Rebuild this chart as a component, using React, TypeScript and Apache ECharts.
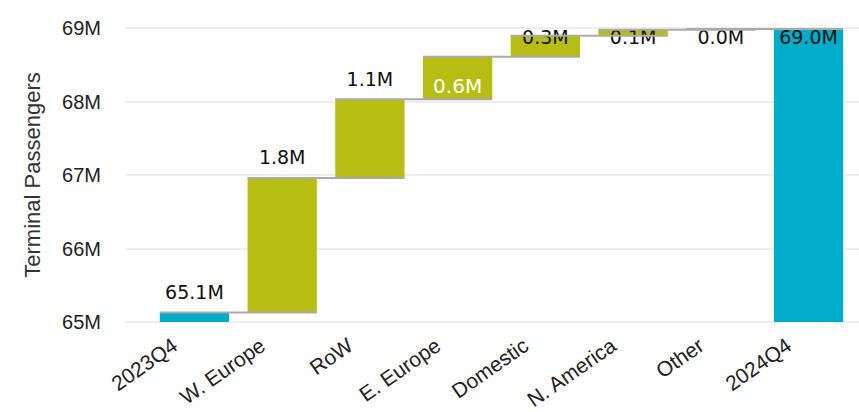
import React, { useEffect, useRef } from "react";
import * as echarts from "echarts";

const categories = ["2023Q4", "W. Europe", "RoW", "E. Europe", "Domestic", "N. America", "Other", "2024Q4"];
const startTotal = 65.13;
const changes = [1.83, 1.07, 0.58, 0.285, 0.08, 0.01];
const endTotal = 68.985;
const yTicks = [65, 66, 67, 68, 69];

const TEAL = "#00acc8";
const OLIVE = "#b7be13";
const GRID_TOP = 28;
const GRID_BOTTOM = 90;
const AXIS_FONT = "'Liberation Sans', Arial, sans-serif";
const LABEL_FONT = "'DejaVu Sans', Tahoma, sans-serif";

const fmt = (v: number) => v.toFixed(1) + "M";

export default function App() {
  const ref = useRef<HTMLDivElement>(null);
  useEffect(() => {
    if (!ref.current) return;
    const chart = echarts.init(ref.current, undefined, { renderer: "svg" });
    const yMin = yTicks[0];
    const yMax = yTicks[yTicks.length - 1];
    const yInt = yTicks[1] - yTicks[0];

    const base: number[] = [0];
    const vis: any[] = [];
    const labels: string[] = [fmt(startTotal)];
    const levels: number[] = [startTotal];
    let cum = startTotal;
    vis.push({ value: startTotal, itemStyle: { color: TEAL } });
    changes.forEach((d) => {
      base.push(cum);
      const top = cum + d;
      const item: any = { value: d, itemStyle: { color: OLIVE } };
      if (top > yMax - 0.5 && d >= 0.5) {
        item.label = { position: "insideBottom", color: "#ffffff", distance: 3, fontSize: 20 };
      }
      vis.push(item);
      labels.push(fmt(d));
      cum = top;
      levels.push(cum);
    });
    base.push(0);
    vis.push({ value: endTotal, itemStyle: { color: TEAL } });
    labels.push(fmt(endTotal));

    const connectorData = levels.map((v, i) => [i, v]);

    chart.setOption({
      animation: false,
      grid: [
        { left: 150.6, right: 6.6, top: GRID_TOP, bottom: GRID_BOTTOM, containLabel: false, outerBoundsMode: "none" },
        { left: 125, right: 0, top: GRID_TOP, bottom: GRID_BOTTOM, containLabel: false, outerBoundsMode: "none" },
      ],
      xAxis: [
        {
          type: "category",
          gridIndex: 0,
          data: categories,
          axisLine: { show: false },
          axisTick: { show: false },
          axisLabel: {
            rotate: 35,
            margin: 7,
            padding: [0, 24, 0, 0],
            fontFamily: AXIS_FONT,
            fontSize: 21,
            color: "#222",
            interval: 0,
          },
        },
        { type: "value", gridIndex: 1, show: false, min: 0, max: 1 },
      ],
      yAxis: [
        {
          type: "value",
          gridIndex: 0,
          min: yMin,
          max: yMax,
          interval: yInt,
          show: false,
          splitLine: { show: false },
        },
        {
          type: "value",
          gridIndex: 1,
          min: yMin,
          max: yMax,
          interval: yInt,
          axisLine: { show: false },
          axisTick: { show: false },
          splitLine: { show: true, lineStyle: { color: "#eeeeee", width: 2 } },
          axisLabel: {
            formatter: (v: number) => v + "M",
            margin: 24,
            fontFamily: AXIS_FONT,
            fontSize: 20,
            color: "#222",
          },
          name: "Terminal Passengers",
          nameLocation: "middle",
          nameGap: 82,
          nameTextStyle: { fontFamily: AXIS_FONT, fontSize: 22, color: "#333" },
        },
      ],
      series: [
        {
          type: "bar",
          stack: "wf",
          xAxisIndex: 0,
          yAxisIndex: 0,
          data: base,
          barWidth: "79%",
          itemStyle: { color: "transparent" },
          silent: true,
        },
        {
          type: "bar",
          stack: "wf",
          xAxisIndex: 0,
          yAxisIndex: 0,
          data: vis,
          barWidth: "79%",
          label: {
            show: true,
            position: "top",
            distance: 11,
            formatter: (p: any) => labels[p.dataIndex],
            fontFamily: LABEL_FONT,
            fontSize: 19,
            color: "#111",
          },
          labelLayout: (params: any) => {
            if (params.labelRect && params.labelRect.y < GRID_TOP) {
              return {
                x: params.rect.x + params.rect.width / 2,
                y: GRID_TOP + 9,
                align: "center",
                verticalAlign: "middle",
              };
            }
            return {};
          },
        },
        {
          type: "custom",
          xAxisIndex: 0,
          yAxisIndex: 0,
          data: connectorData,
          z: 5,
          silent: true,
          renderItem: (params: any, api: any) => {
            const i = api.value(0);
            const v = api.value(1);
            const p0 = api.coord([i, v]);
            const p1 = api.coord([i + 1, v]);
            const w = api.size([1, 0])[0] * 0.79;
            return {
              type: "line",
              shape: { x1: p0[0] - w / 2, y1: p0[1], x2: p1[0] + w / 2, y2: p1[1] },
              style: { stroke: "#aaaaaa", lineWidth: 2 },
            };
          },
        },
      ],
    });
    return () => chart.dispose();
  }, []);
  return (
    <div
      ref={ref}
      style={{ position: "fixed", left: 0, top: 0, width: 859, height: 412, background: "#fff" }}
    />
  );
}
